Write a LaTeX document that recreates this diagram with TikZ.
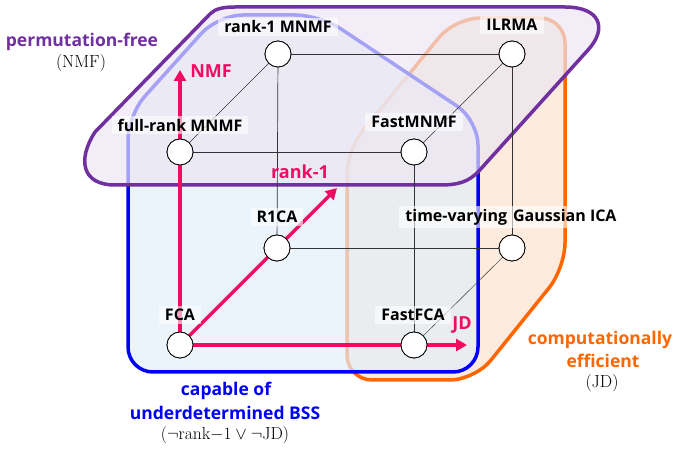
\documentclass[tikz,border=0pt]{standalone}
\usepackage{fontspec}
\usepackage{amsmath,amssymb}
\usetikzlibrary{arrows.meta}
\newfontfamily\lblfont{Open Sans}
\definecolor{axisred}{RGB}{240,12,96}
\definecolor{bssblue}{RGB}{0,0,250}
\definecolor{jdorange}{RGB}{255,102,0}
\definecolor{nmfpurple}{RGB}{112,48,160}
\definecolor{bssfill}{RGB}{226,238,250}
\definecolor{jdfill}{RGB}{252,226,206}
\definecolor{nmffill}{RGB}{236,230,242}

\begin{document}
\begin{tikzpicture}[x=1pt,y=-1pt]
\tikzstyle{state}=[circle,draw=black,fill=white,minimum size=26pt,inner sep=0pt,line width=0.8pt]
\tikzstyle{lbl}=[fill=white,fill opacity=0.6,text opacity=1,inner xsep=6pt,inner ysep=3pt,font=\lblfont\bfseries\fontsize{16}{18}\selectfont]
\tikzstyle{edge}=[black!80,line width=0.7pt]
\tikzstyle{axis}=[axisred,line width=3.5pt,-{Triangle[length=11pt,width=12pt]}]
\tikzstyle{axislbl}=[text=axisred,font=\lblfont\bfseries\fontsize{18}{20}\selectfont]
\tikzstyle{regionname}=[font=\lblfont\bfseries\fontsize{17.5}{20}\selectfont]
\tikzstyle{regioncond}=[font=\fontsize{17.5}{20}\selectfont]
\tikzstyle{blob}=[line width=3.5pt,fill opacity=0.7,rounded corners=25pt]
\useasboundingbox (0,0) rectangle (673,449);
% regions
\draw[blob,draw=jdorange,fill=jdfill] (347,150) -- (455,18) -- (565,18) -- (565,268) -- (475,380) -- (347,380) -- cycle;
\draw[blob,draw=bssblue,fill=bssfill] (128,372) -- (128,115) -- (218,15) -- (320,15) -- (478,120) -- (478,372) -- cycle;
\draw[blob,draw=nmfpurple,fill=nmffill,rounded corners=0pt] (235,7) -- (565,7)
  .. controls (600,7) and (608,28) .. (588,50) -- (478,172)
  .. controls (468,182) and (458,185) .. (440,185) -- (115,185)
  .. controls (82,185) and (77,160) .. (95,132) -- (210,14)
  .. controls (215,9) and (222,7) .. (235,7) -- cycle;
% cube corners
\node[state] (fca) at (180,345) {};
\node[state] (fastfca) at (414,345) {};
\node[state] (rica) at (277,248) {};
\node[state] (tvica) at (512,248) {};
\node[state] (frmnmf) at (180,152) {};
\node[state] (fastmnmf) at (414,152) {};
\node[state] (rmnmf) at (278,54) {};
\node[state] (ilrma) at (512,54) {};
% cube edges
\draw[edge] (frmnmf) -- (fastmnmf);
\draw[edge] (fastmnmf) -- (fastfca);
\draw[edge] (rmnmf) -- (ilrma);
\draw[edge] (rmnmf) -- (rica);
\draw[edge] (ilrma) -- (tvica);
\draw[edge] (rica) -- (tvica);
\draw[edge,line width=0.45pt] (frmnmf) -- (rmnmf);
\draw[edge,line width=0.45pt] (fastmnmf) -- (ilrma);
\draw[edge,line width=0.45pt] (fastfca) -- (tvica);
% axes
\coordinate (nmftip) at (180,70);
\coordinate (ranktip) at (337,188);
\coordinate (jdtip) at (467,345);
\draw[axis] (fca.center) -- (nmftip);
\draw[axis] (fca.center) -- (ranktip);
\draw[axis] (fca.center) -- (jdtip);
\foreach \n in {fca,fastfca,rica,tvica,frmnmf,fastmnmf,rmnmf,ilrma}
  \node[state] at (\n) {};
\node[axislbl] (nmflbl) at (211,71) {NMF};
\node[axislbl] (ranklbl) at (300,172) {rank-1};
\node[axislbl] (jdlbl) at (462,325) {JD};
% method names
\node[lbl] (rmnmflbl) at (278,27) {rank-1 MNMF};
\node[lbl] (ilrmalbl) at (512,25) {ILRMA};
\node[lbl] (frmnmflbl) at (180,125) {full-rank MNMF};
\node[lbl] (fastmnmflbl) at (414,122) {FastMNMF};
\node[lbl] (ricalbl) at (277,217) {R1CA};
\node[lbl] (tvicalbl) at (511,217) {time-varying\hspace{6pt}Gaussian ICA};
\node[lbl] (fcalbl) at (180,315) {FCA};
\node[lbl] (fastfcalbl) at (413,315) {FastFCA};
% region names
\node[regionname,text=nmfpurple] (nmfname) at (82,42) {permutation-free};
\node[regioncond] (nmfcond) at (81,63) {(NMF)};
\node[regionname,text=bssblue] (bssname) at (226,391) {capable of};
\node[regionname,text=bssblue] (bssname2) at (225,413) {underdetermined BSS};
\node[regioncond] (bsscond) at (225,435) {$(\neg\mathrm{rank}{-}1 \vee \neg\mathrm{JD})$};
\node[regionname,text=jdorange] (jdname) at (600,340) {computationally};
\node[regionname,text=jdorange] (jdname2) at (603,361) {efficient};
\node[regioncond] (jdcond) at (602,383) {(JD)};
\end{tikzpicture}
\end{document}
